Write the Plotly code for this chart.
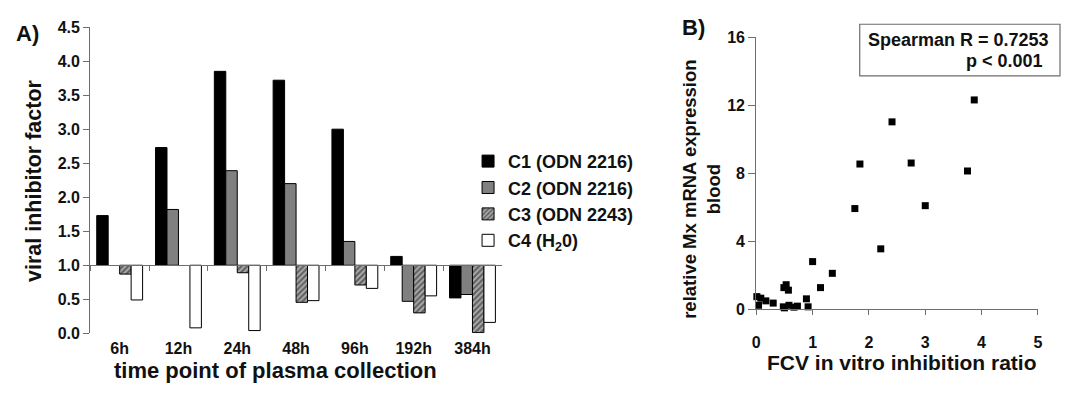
import plotly.graph_objects as go

# ---------------- data ----------------
times = ["6h", "12h", "24h", "48h", "96h", "192h", "384h"]
c1_vals = [1.73, 2.73, 3.85, 3.72, 3.00, 1.13, 0.52]
c2_vals = [None, 1.82, 2.39, 2.20, 1.35, 0.47, 0.57]
c3_vals = [0.87, None, 0.89, 0.455, 0.71, 0.30, 0.01]
c4_vals = [0.49, 0.08, 0.04, 0.48, 0.66, 0.55, 0.16]
series_names = ["C1 (ODN 2216)", "C2 (ODN 2216)", "C3 (ODN 2243)", "C4 (H<sub>2</sub>0)"]
baseline = 1.0

fcv_ratio = [3.87, 2.41, 1.84, 2.75, 3.75, 1.75, 3.00, 2.21, 1.00, 1.35, 1.14, 0.53, 0.49,
             0.57, 0.01, 0.08, 0.17, 0.30, 0.04, 0.48, 0.50, 0.58, 0.67, 0.73, 0.89, 0.92]
mx_expr = [12.32, 11.03, 8.55, 8.61, 8.14, 5.93, 6.10, 3.56, 2.81, 2.12, 1.28, 1.45, 1.28,
           1.13, 0.75, 0.66, 0.50, 0.37, 0.24, 0.15, 0.09, 0.24, 0.13, 0.19, 0.62, 0.15]

# ---------------- layout helpers ----------------
W, H = 1066, 393
FONT = "Liberation Sans"
AX = "#6e6e6e"


def px_x(p):
    return p / W


def px_y(p):
    return 1 - p / H


ya_dom = [px_y(340), px_y(20)]
xa_dom = [px_x(87), px_x(87 + 7 * 59.3)]
yb_dom = [px_y(315), px_y(30.7)]
xb_dom = [px_x(758.7), px_x(1042.7)]
ya_range = [0, 4.5]
base_pos = ya_dom[0] + (baseline - ya_range[0]) / (ya_range[1] - ya_range[0]) * (ya_dom[1] - ya_dom[0])


def rel(vals):
    return [None if v is None else v - baseline for v in vals]


fig = go.Figure()
styles = [
    dict(color="black"),
    dict(color="#808080"),
    dict(color="#999999", pattern=dict(shape="/", fgcolor="#111", bgcolor="#b0b0b0", size=4, solidity=0.55)),
    dict(color="white"),
]
for name, vals, st in zip(series_names, [c1_vals, c2_vals, c3_vals, c4_vals], styles):
    fig.add_trace(go.Bar(
        x=times, y=rel(vals), base=baseline, name=name,
        marker=dict(line=dict(color="black", width=1), **st),
        xaxis="x", yaxis="y",
    ))

fig.add_trace(go.Scatter(
    x=fcv_ratio, y=mx_expr, mode="markers", showlegend=False,
    marker=dict(symbol="square", size=7, color="black"),
    xaxis="x2", yaxis="y2", cliponaxis=False,
))

tickfont = dict(family=FONT, size=16, color="#111", weight="bold")

fig.update_layout(
    width=W, height=H,
    margin=dict(l=0, r=0, t=0, b=0),
    paper_bgcolor="white", plot_bgcolor="white",
    font=dict(family=FONT, color="#111", weight="bold"),
    barmode="group", bargap=0.22, bargroupgap=0,
    showlegend=True,
    legend=dict(x=px_x(468), y=px_y(141), xanchor="left", yanchor="top",
                font=dict(family=FONT, size=18, color="#111", weight="bold"),
                tracegroupgap=0, bgcolor="rgba(0,0,0,0)"),
    xaxis=dict(domain=xa_dom, anchor="free", position=base_pos, type="category",
               categoryorder="array", categoryarray=times,
               showline=True, linecolor=AX, linewidth=1.2,
               ticks="outside", tickson="boundaries", ticklen=5, tickcolor=AX,
               tickfont=tickfont, ticklabelstandoff=68,
               showgrid=False, zeroline=False),
    yaxis=dict(domain=ya_dom, anchor="x", range=ya_range, dtick=0.5, tickformat=".1f",
               showline=True, linecolor=AX, linewidth=1.2,
               ticks="outside", ticklen=6, tickcolor=AX, tickfont=tickfont,
               showgrid=False, zeroline=False),
    xaxis2=dict(domain=xb_dom, anchor="y2", range=[0, 5], dtick=1,
                showline=True, linecolor=AX, linewidth=1.2,
                ticks="outside", ticklen=5, tickcolor=AX, tickfont=tickfont,
                ticklabelstandoff=13,
                showgrid=False, zeroline=False),
    yaxis2=dict(domain=yb_dom, anchor="x2", range=[0, 16], dtick=4,
                showline=True, linecolor=AX, linewidth=1.2,
                ticks="outside", ticklen=7, tickcolor=AX, tickfont=tickfont,
                showgrid=False, zeroline=False),
)


def tf(size):
    return dict(family=FONT, size=size, color="#111", weight="bold")


ann = [
    dict(text="A)", x=px_x(24), y=px_y(27), font=tf(22)),
    dict(text="B)", x=px_x(695), y=px_y(20), font=tf(22)),
    dict(text="viral inhibitor factor", x=px_x(30), y=px_y(180), textangle=-90, font=tf(21.5)),
    dict(text="time point of plasma collection", x=px_x(274), y=px_y(379), font=tf(22)),
    dict(text="FCV in vitro inhibition ratio", x=px_x(905), y=px_y(371), font=tf(21)),
    dict(text="relative Mx mRNA expression<br>blood", x=px_x(704), y=px_y(190), textangle=-90,
         font=tf(18.5)),
    dict(text="Spearman R = 0.7253", x=px_x(869), y=px_y(33), xanchor="left", font=tf(18)),
    dict(text="p &lt; 0.001", x=px_x(968), y=px_y(55), xanchor="left", font=tf(18)),
]
for a in ann:
    a.setdefault("xanchor", "center")
    a.update(xref="paper", yref="paper", yanchor="middle", showarrow=False)
fig.update_layout(annotations=ann)

fig.add_shape(type="rect", xref="paper", yref="paper",
              x0=px_x(863), x1=px_x(1065), y0=px_y(71), y1=px_y(17),
              line=dict(color=AX, width=1.2), fillcolor="rgba(0,0,0,0)")

fig.write_html("out.html")
